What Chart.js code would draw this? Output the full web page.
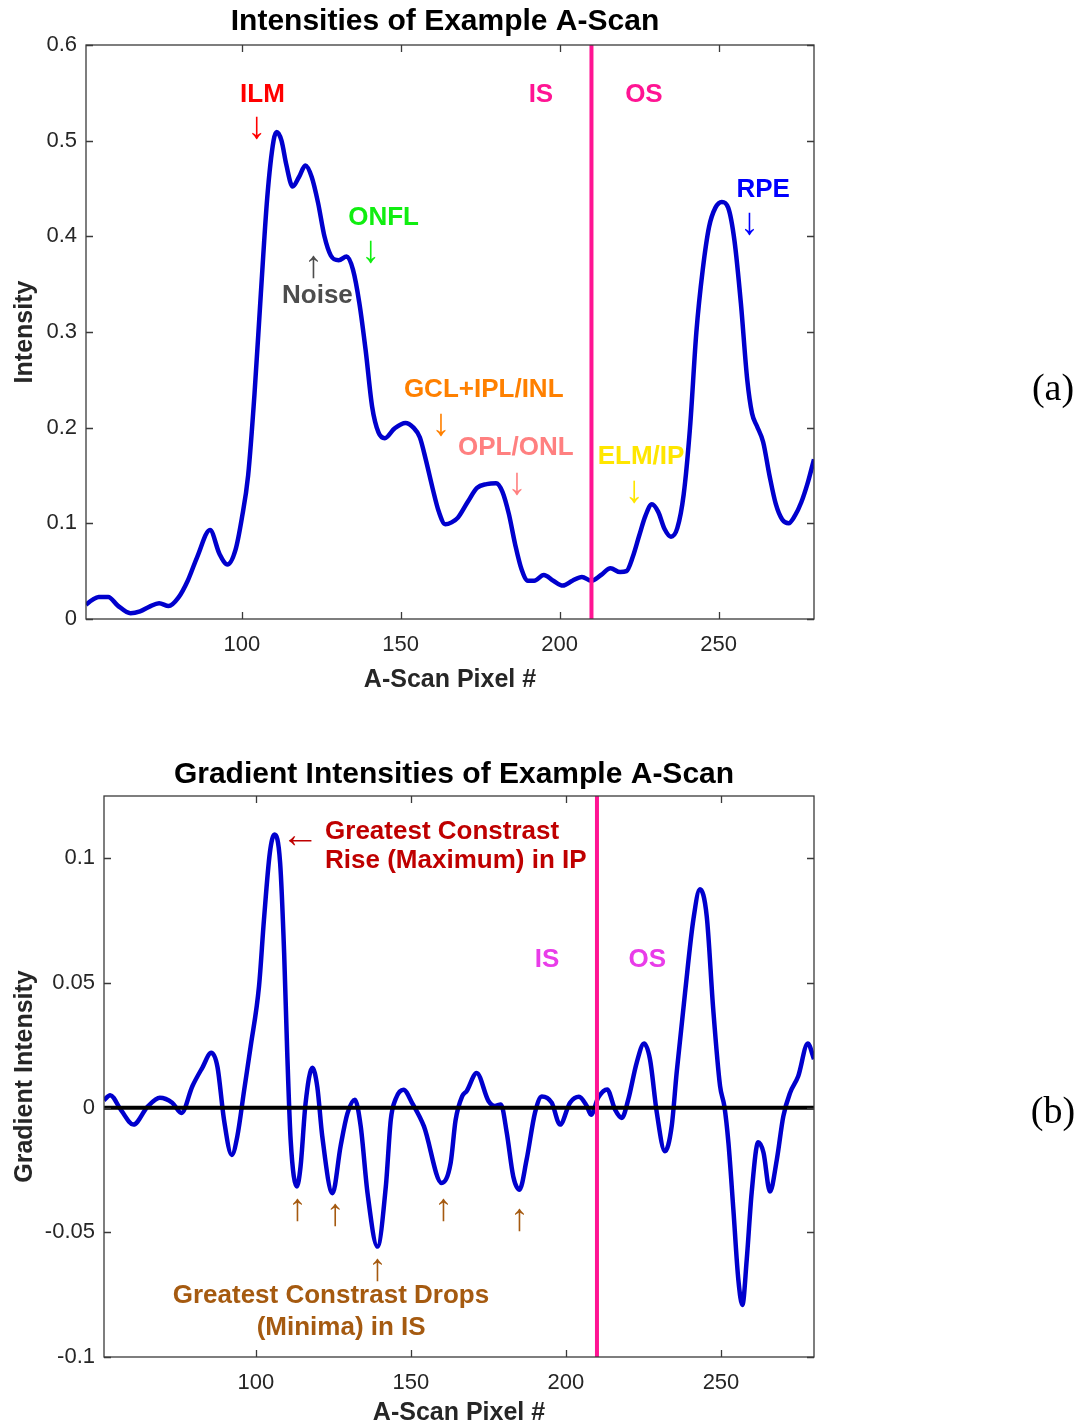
<!DOCTYPE html>
<html>
<head>
<meta charset="utf-8">
<script src="https://cdn.jsdelivr.net/npm/chart.js@4.4.1/dist/chart.umd.min.js"></script>
<style>
  html, body { margin: 0; padding: 0; background: #fff; }
  #page { position: relative; width: 1083px; height: 1427px; background: #fff; }
  canvas { position: absolute; left: 0; }
  #top { top: 0; }
  #bottom { top: 700px; }
</style>
</head>
<body>
<div id="page">
  <canvas id="top" width="1083" height="700"></canvas>
  <canvas id="bottom" width="1083" height="727"></canvas>
</div>
<script>
// A-scan intensities (panel a)
const intensityPixels = [51, 53, 55, 58, 61, 65, 68, 71, 74, 77, 80, 83, 86, 90, 93, 95.5, 98, 100, 102, 104,
  106, 108, 110, 111, 112.5, 114, 116, 118, 120, 122, 124, 126, 128, 130.5, 133, 135, 137, 139, 141, 143,
  145, 148, 151.5, 154, 156, 158, 160, 162, 164, 166, 168, 171, 174, 177, 180, 182, 184, 186, 188, 190,
  192, 195, 198, 201, 204, 207, 210, 213, 216, 219, 221, 223, 225, 227, 229, 231, 233, 235, 237, 239,
  241, 243, 245, 247, 249, 251, 253, 255, 257, 259, 260.5, 262, 264, 266, 268, 270, 272, 274, 276, 278, 280];
const intensityValues = [0.015, 0.020, 0.023, 0.023, 0.014, 0.006, 0.008, 0.013, 0.0165, 0.0135, 0.022, 0.040, 0.065, 0.093, 0.068, 0.057, 0.072, 0.105, 0.150, 0.235,
  0.340, 0.440, 0.500, 0.509, 0.500, 0.475, 0.452, 0.462, 0.474, 0.462, 0.435, 0.400, 0.380, 0.375, 0.379, 0.365, 0.330, 0.280, 0.222, 0.195,
  0.189, 0.199, 0.205, 0.200, 0.190, 0.165, 0.137, 0.112, 0.099, 0.101, 0.106, 0.122, 0.137, 0.141, 0.142, 0.133, 0.110, 0.078, 0.052, 0.040,
  0.040, 0.046, 0.040, 0.035, 0.040, 0.044, 0.040, 0.046, 0.053, 0.049, 0.050, 0.065, 0.087, 0.108, 0.120, 0.112, 0.094, 0.086, 0.095, 0.130,
  0.200, 0.300, 0.365, 0.410, 0.430, 0.436, 0.430, 0.395, 0.330, 0.250, 0.215, 0.202, 0.185, 0.150, 0.120, 0.104, 0.100, 0.108, 0.122, 0.142, 0.167];

// gradient of the A-scan (panel b)
const gradientPixels = [51, 53, 56.5, 60.5, 65, 69, 73, 76, 79.5, 82.7, 85.6, 87.6, 89.7, 92.2, 94, 96.2, 98.3, 101, 102.6, 104.5,
  106, 107.8, 109.1, 110.1, 111.2, 113.2, 114.4, 116, 118.2, 119.8, 121.4, 124.7, 127.3, 129.5, 131.9, 133.8, 136, 139.2, 141.9, 143.5,
  145.1, 147.6, 150.5, 154.2, 159.9, 162.8, 164.4, 166.5, 168, 171.2, 175, 177.1, 179, 180.9, 183, 185, 187.3, 190, 192.2, 195.4,
  198.1, 201.3, 204.2, 206.7, 208.1, 210.4, 213.3, 215.8, 218, 220.1, 222.8, 225.2, 227.1, 229.3, 231.9, 234.1, 235.7, 238.4, 241.1, 243.2,
  245.4, 247.5, 249.7, 251.1, 252.4, 254, 255.6, 256.9, 258.3, 259.9, 262, 263.7, 265.8, 268, 270.1, 272.3, 274.9, 278, 280];
const gradientValues = [0.003, 0.005, -0.001, -0.0068, 0.0003, 0.004, 0.002, -0.0021, 0.0086, 0.016, 0.022, 0.0163, -0.0048, -0.019, -0.0115, 0.007, 0.0246, 0.0487, 0.0755, 0.1023,
  0.1096, 0.0983, 0.0621, 0.022, -0.0129, -0.0316, -0.0236, 0.0016, 0.016, 0.0083, -0.0115, -0.0343, -0.0155, -0.0024, 0.0032, -0.0075, -0.0343, -0.0557, -0.0316, -0.0048,
  0.0036, 0.0072, 0.0016, -0.0075, -0.0302, -0.0222, -0.005, 0.0045, 0.0067, 0.0139, 0.0027, 0.0007, 0.0013, -0.010, -0.0276, -0.0329, -0.0209, -0.0021, 0.0045, 0.002,
  -0.0068, 0.002, 0.0044, 0.0007, -0.0028, 0.004, 0.0073, -0.0007, -0.0041, 0.0033, 0.018, 0.0257, 0.0194, -0.002, -0.0175, -0.0074, 0.014, 0.046, 0.0755, 0.0876,
  0.0768, 0.0394, 0.0087, 0.0005, -0.0141, -0.041, -0.069, -0.0791, -0.061, -0.034, -0.0139, -0.018, -0.0336, -0.0209, -0.0035, 0.006, 0.0126, 0.0257, 0.0195];

const pixelTicks = [100, 150, 200, 250];
const intensityTicks = [0, 0.1, 0.2, 0.3, 0.4, 0.5, 0.6];
const gradientTicks = [-0.1, -0.05, 0, 0.05, 0.1];
const pixelRange = [51, 280];
const isOsBoundary = 210;

const SANS = "'Liberation Sans', Arial, sans-serif";
const AXIS = '#262626';

const toPoints = (xs, ys) => xs.map((x, i) => ({ x, y: ys[i] }));

// MATLAB look: boxed axes, inward ticks, titles and text annotations
const matlabFrame = {
    id: 'matlabFrame',
    afterDraw(chart, args, opts) {
        const { ctx, chartArea: { left, right, top, bottom }, scales: { x, y } } = chart;
        ctx.save();
        ctx.strokeStyle = '#3a3a3a';
        ctx.lineWidth = 1.3;
        ctx.strokeRect(left, top, right - left, bottom - top);
        ctx.beginPath();
        x.ticks.forEach(t => {
            const px = Math.round(x.getPixelForValue(t.value)) + 0.5;
            ctx.moveTo(px, bottom); ctx.lineTo(px, bottom - 7);
            ctx.moveTo(px, top); ctx.lineTo(px, top + 7);
        });
        y.ticks.forEach(t => {
            const py = Math.round(y.getPixelForValue(t.value)) + 0.5;
            ctx.moveTo(left, py); ctx.lineTo(left + 7, py);
            ctx.moveTo(right, py); ctx.lineTo(right - 7, py);
        });
        ctx.stroke();

        ctx.fillStyle = '#000';
        ctx.textAlign = 'center';
        ctx.textBaseline = 'middle';
        ctx.font = `bold 30px ${SANS}`;
        ctx.fillText(opts.title, (left + right) / 2 - 5, opts.titleY);

        ctx.fillStyle = AXIS;
        ctx.font = `bold 25px ${SANS}`;
        ctx.fillText('A-Scan Pixel #', (left + right) / 2, opts.xTitleY);
        ctx.save();
        ctx.translate(25, (top + bottom) / 2);
        ctx.rotate(-Math.PI / 2);
        ctx.fillText(opts.yTitle, 0, 0);
        ctx.restore();

        opts.notes.forEach(n => {
            ctx.fillStyle = n.color;
            ctx.textAlign = n.align || 'center';
            ctx.font = n.arrow ? "38px 'Liberation Serif', serif" : `bold 26px ${SANS}`;
            ctx.fillText(n.text, x.getPixelForValue(n.x), y.getPixelForValue(n.y));
        });

        ctx.fillStyle = '#000';
        ctx.textAlign = 'center';
        ctx.font = "38px 'Liberation Serif', 'Times New Roman', serif";
        ctx.fillText(opts.panel, 1053, opts.panelY);
        ctx.restore();
    }
};

function buildOptions(yTicks, yMin, yMax, yWidth, padding, frame) {
    return {
        responsive: false,
        animation: false,
        layout: { padding },
        plugins: { legend: { display: false }, tooltip: { enabled: false }, matlabFrame: frame },
        scales: {
            x: {
                type: 'linear',
                min: pixelRange[0], max: pixelRange[1],
                afterBuildTicks: s => { s.ticks = pixelTicks.map(v => ({ value: v })); },
                afterFit: s => { s.height = 50; },
                grid: { display: false, drawTicks: false },
                border: { display: false },
                ticks: { color: AXIS, padding: 13, font: { size: 22, family: SANS }, callback: v => String(v) }
            },
            y: {
                type: 'linear',
                min: yMin, max: yMax,
                afterBuildTicks: s => { s.ticks = yTicks.map(v => ({ value: v })); },
                afterFit: s => { s.width = yWidth; },
                grid: { display: false, drawTicks: false },
                border: { display: false },
                ticks: { color: AXIS, padding: 9, font: { size: 22, family: SANS }, callback: v => String(v) }
            }
        }
    };
}

new Chart(document.getElementById('top'), {
    type: 'line',
    data: {
        datasets: [
            {
                data: [{ x: isOsBoundary, y: 0 }, { x: isOsBoundary, y: 0.6 }],
                borderColor: '#ff1493', borderWidth: 4, pointRadius: 0, order: 0
            },
            {
                data: toPoints(intensityPixels, intensityValues),
                borderColor: '#0000cd', borderWidth: 4.5, pointRadius: 0,
                cubicInterpolationMode: 'monotone', order: 2
            }
        ]
    },
    options: buildOptions(intensityTicks, 0, 0.6, 86, { left: 0, top: 45, right: 269, bottom: 31 }, {
        title: 'Intensities of Example A-Scan', titleY: 22, xTitleY: 680, yTitle: 'Intensity',
        panel: '(a)', panelY: 390,
        notes: [
            { text: 'ILM', x: 106.5, y: 0.5475, color: '#ff0000' },
            { text: '↓', x: 104.6, y: 0.513, color: '#ff0000', arrow: true },
            { text: 'IS', x: 194.1, y: 0.5475, color: '#ff1493' },
            { text: 'OS', x: 226.5, y: 0.5475, color: '#ff1493' },
            { text: 'RPE', x: 264, y: 0.4483, color: '#0000ff' },
            { text: '↓', x: 259.6, y: 0.413, color: '#0000ff', arrow: true },
            { text: 'ONFL', x: 144.6, y: 0.419, color: '#10ee10' },
            { text: '↓', x: 140.5, y: 0.384, color: '#10ee10', arrow: true },
            { text: '↑', x: 122.5, y: 0.368, color: '#4d4d4d', arrow: true },
            { text: 'Noise', x: 123.8, y: 0.3375, color: '#4d4d4d' },
            { text: 'GCL+IPL/INL', x: 176.1, y: 0.2393, color: '#ff8000' },
            { text: '↓', x: 162.6, y: 0.203, color: '#ff8000', arrow: true },
            { text: 'OPL/ONL', x: 186.2, y: 0.1787, color: '#ff8080' },
            { text: '↓', x: 186.5, y: 0.1415, color: '#ff8080', arrow: true },
            { text: 'ELM/IP', x: 225.6, y: 0.1693, color: '#ffe600' },
            { text: '↓', x: 223.4, y: 0.133, color: '#ffe600', arrow: true }
        ]
    }),
    plugins: [matlabFrame]
});

new Chart(document.getElementById('bottom'), {
    type: 'line',
    data: {
        datasets: [
            {
                data: [{ x: isOsBoundary, y: -0.1 }, { x: isOsBoundary, y: 0.125 }],
                borderColor: '#ff1493', borderWidth: 4, pointRadius: 0, order: 0
            },
            {
                data: [{ x: pixelRange[0], y: 0 }, { x: pixelRange[1], y: 0 }],
                borderColor: '#000', borderWidth: 4, pointRadius: 0, order: 1
            },
            {
                data: toPoints(gradientPixels, gradientValues),
                borderColor: '#0000cd', borderWidth: 4.5, pointRadius: 0,
                cubicInterpolationMode: 'monotone', order: 2
            }
        ]
    },
    options: buildOptions(gradientTicks, -0.1, 0.125, 104, { left: 0, top: 96, right: 269, bottom: 20 }, {
        title: 'Gradient Intensities of Example A-Scan', titleY: 75, xTitleY: 713, yTitle: 'Gradient Intensity',
        panel: '(b)', panelY: 413,
        notes: [
            { text: '←', x: 114.2, y: 0.1084, color: '#bf0000', arrow: true },
            { text: 'Greatest Constrast', x: 122.3, y: 0.1108, color: '#bf0000', align: 'left' },
            { text: 'Rise (Maximum) in IP', x: 122.3, y: 0.0988, color: '#bf0000', align: 'left' },
            { text: 'IS', x: 193.9, y: 0.0594, color: '#e93ce9' },
            { text: 'OS', x: 226.2, y: 0.0594, color: '#e93ce9' },
            { text: '↑', x: 113.3, y: -0.041, color: '#a55a10', arrow: true },
            { text: '↑', x: 125.5, y: -0.043, color: '#a55a10', arrow: true },
            { text: '↑', x: 160.4, y: -0.041, color: '#a55a10', arrow: true },
            { text: '↑', x: 184.9, y: -0.045, color: '#a55a10', arrow: true },
            { text: '↑', x: 139.1, y: -0.065, color: '#a55a10', arrow: true },
            { text: 'Greatest Constrast Drops', x: 124.2, y: -0.0755, color: '#a55a10' },
            { text: '(Minima) in IS', x: 127.5, y: -0.0884, color: '#a55a10' }
        ]
    }),
    plugins: [matlabFrame]
});
</script>
</body>
</html>
